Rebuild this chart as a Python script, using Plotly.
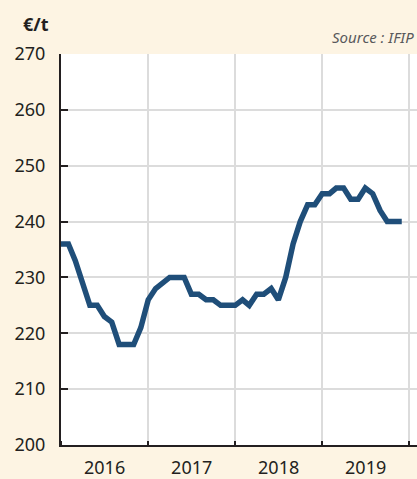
import plotly.graph_objects as go

months = [f"{y}-{m:02d}-01" for y in range(2016, 2020) for m in range(1, 13)]
prices = [
    236, 236, 233, 229, 225, 225, 223, 222, 218, 218, 218, 221,
    226, 228, 229, 230, 230, 230, 227, 227, 226, 226, 225, 225,
    225, 226, 225, 227, 227, 228, 226, 230, 236, 240, 243, 243,
    245, 245, 246, 246, 244, 244, 246, 245, 242, 240, 240, 240,
]
y_ticks = [200, 210, 220, 230, 240, 250, 260, 270]

INK = "#231F20"
fig = go.Figure()
fig.add_trace(go.Scatter(
    x=months, y=prices, mode="lines",
    line=dict(color="#1F4E79", width=5.5, shape="linear"),
    hoverinfo="skip",
))

fig.update_layout(
    width=417, height=479,
    paper_bgcolor="#FDF4E3",
    plot_bgcolor="#FFFFFF",
    margin=dict(l=61, r=0, t=54, b=32),
    showlegend=False,
    font=dict(family="Noto Sans, Open Sans, sans-serif", color=INK, size=18),
    xaxis=dict(
        type="date",
        range=["2016-01-01", "2020-02-03"],
        tick0="2016-01-01", dtick="M12",
        tickformat="%Y", ticklabelmode="period",
        ticks="inside", ticklen=4, tickwidth=2, tickcolor=INK,
        showgrid=True, gridcolor="#DCDCDC", gridwidth=2,
        showline=True, linecolor=INK, linewidth=2,
        tickfont=dict(size=18, color=INK),
        ticklabelstandoff=5,
        zeroline=False, fixedrange=True,
    ),
    yaxis=dict(
        range=[200, 270],
        tickvals=y_ticks,
        ticks="inside", ticklen=7, tickwidth=2, tickcolor=INK,
        showgrid=True, gridcolor="#DCDCDC", gridwidth=2,
        showline=True, linecolor=INK, linewidth=2,
        tickfont=dict(size=18, color=INK),
        ticklabelstandoff=10,
        zeroline=False, fixedrange=True,
    ),
    annotations=[
        dict(text="<b>€/t</b>", xref="paper", yref="paper", x=0, y=1.0,
             xshift=-40, yshift=30, xanchor="left", yanchor="middle",
             showarrow=False, font=dict(size=18, color=INK)),
        dict(text="<i>Source : IFIP</i>", xref="paper", yref="paper", x=1.0,
             y=1.0, yshift=17, xanchor="right", yanchor="middle", xshift=-1,
             showarrow=False, font=dict(size=15, color="#58595B")),
    ],
)

fig.write_html("out.html", config={"displayModeBar": False},
               post_script="document.body.style.margin='0';document.body.style.overflow='hidden';")
